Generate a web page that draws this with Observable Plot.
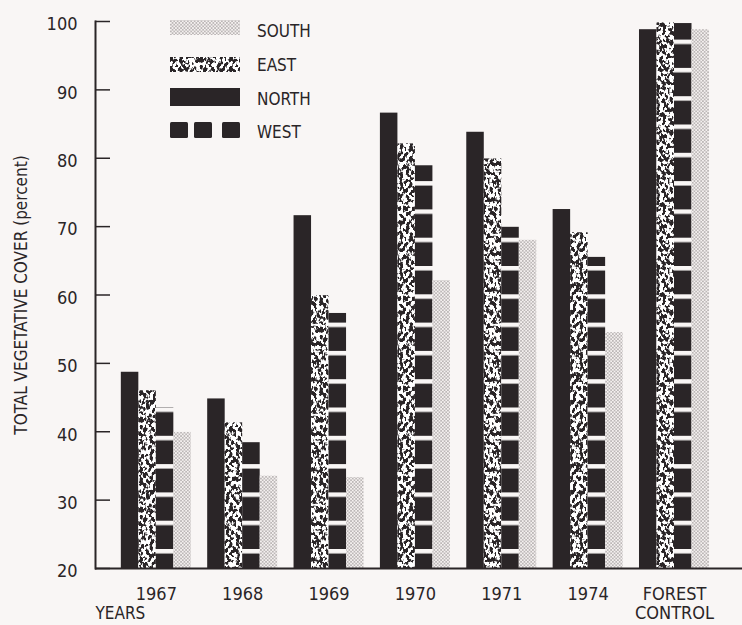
<!DOCTYPE html>
<html>
<head>
<meta charset="utf-8">
<script src="https://cdn.jsdelivr.net/npm/d3@7"></script>
<script src="https://cdn.jsdelivr.net/npm/@observablehq/plot@0.6"></script>
<style>
  html, body { margin: 0; padding: 0; background: #f9f6f5; }
  #chart { width: 742px; height: 625px; }
  svg { font-family: "DejaVu Sans Condensed", "DejaVu Sans", sans-serif; font-stretch: condensed; }
</style>
</head>
<body>
<div id="chart"></div>
<script>
// ---- data ----
const groups = ["1967", "1968", "1969", "1970", "1971", "1974", "FOREST CONTROL"];
const seriesNames = ["NORTH", "EAST", "WEST", "SOUTH"];
const north = [48.7, 44.8, 71.6, 86.6, 83.8, 72.5, 98.8];
const east  = [46.0, 41.3, 59.9, 82.1, 79.9, 69.1, 99.8];
const west  = [43.5, 38.4, 57.3, 78.9, 69.9, 65.5, 99.7];
const south = [39.9, 33.5, 33.3, 62.1, 68.0, 54.5, 98.8];
const legendOrder = ["SOUTH", "EAST", "NORTH", "WEST"];
const yTicks = [20, 30, 40, 50, 60, 70, 80, 90, 100];
const yTitle = "TOTAL VEGETATIVE COVER (percent)";
const xNote = "YEARS";

const valuesBySeries = { NORTH: north, EAST: east, WEST: west, SOUTH: south };
const rows = seriesNames.flatMap(s => groups.map((g, i) => ({ group: g, series: s, value: valuesBySeries[s][i] })));

// ---- styles ----
const DARK = "#2a2527", BG = "#f9f6f5";
const fills = { NORTH: DARK, EAST: "url(#pEast)", WEST: "url(#pWest)", SOUTH: "url(#pSouth)" };
const bandW = 70, sub = bandW / 4;

const barMarks = seriesNames.map((s, k) =>
  Plot.barY(rows.filter(d => d.series === s), {
    x: "group", y1: 20, y2: "value", fill: fills[s],
    insetLeft: k * sub, insetRight: (3 - k) * sub
  })
);

const chart = Plot.plot({
  width: 742, height: 625,
  marginLeft: 95, marginRight: 0, marginTop: 21, marginBottom: 57,
  x: { type: "band", domain: groups, paddingInner: 0.1894, paddingOuter: 0.3406, align: 0.439, round: false, axis: null },
  y: { domain: [20, 100], axis: null },
  style: { background: BG, color: DARK, fontSize: "17px", fontFamily: "'DejaVu Sans Condensed', 'DejaVu Sans', sans-serif", overflow: "visible" },
  marks: [
    ...barMarks,
    Plot.ruleY(yTicks, { insetRight: 632, stroke: DARK, strokeWidth: 1.5 }),
    Plot.ruleY([20], { stroke: DARK, strokeWidth: 2 }),
    Plot.frame({ anchor: "left", stroke: DARK, strokeWidth: 2 }),
    Plot.axisY({ ticks: yTicks, tickSize: 0, tickPadding: 18, fontSize: 18, dy: 3, label: null, fill: DARK }),
    Plot.axisX({ tickSize: 0, tickPadding: 17, fontSize: 18, lineHeight: 1.1, label: null, fill: DARK,
      tickFormat: d => d === "FOREST CONTROL" ? "FOREST\nCONTROL" : d }),
    Plot.text([yTitle], { frameAnchor: "left", textAnchor: "middle", rotate: -90, dx: -74, fontSize: 17, fill: DARK }),
    Plot.text([xNote], { x: () => groups[0], frameAnchor: "bottom", textAnchor: "middle", dy: 50, dx: -36, fontSize: 17, fill: DARK })
  ]
});

const svg = d3.select(chart);
svg.insert("defs", ":first-child").html(`
  <filter id="fSpeck" x="0" y="0" width="100%" height="100%" color-interpolation-filters="sRGB">
    <feTurbulence type="fractalNoise" baseFrequency="0.3 0.22" numOctaves="2" seed="7" stitchTiles="stitch" result="t"/>
    <feColorMatrix in="t" type="matrix" values="0 0 0 0 1  0 0 0 0 1  0 0 0 0 1  14 0 0 0 -6.4"/>
  </filter>
  <pattern id="pEast" patternUnits="userSpaceOnUse" width="60" height="90">
    <rect width="60" height="90" fill="${DARK}"/>
    <rect width="60" height="90" fill="#fff" filter="url(#fSpeck)"/>
  </pattern>
  <pattern id="pSouth" patternUnits="userSpaceOnUse" width="3.4" height="3.4">
    <rect width="3.4" height="3.4" fill="#f5f1f0"/>
    <circle cx="0.85" cy="0.85" r="0.6" fill="#5a5455"/>
    <circle cx="2.55" cy="2.55" r="0.6" fill="#5a5455"/>
  </pattern>
  <pattern id="pWest" patternUnits="userSpaceOnUse" width="20" height="28.3" patternTransform="translate(0,11.3)">
    <rect width="20" height="28.3" fill="${DARK}"/>
    <rect width="20" height="4.5" fill="${BG}"/>
  </pattern>
`);

// ---- legend ----
const lg = svg.append("g").attr("font-size", 17).attr("fill", DARK).attr("text-anchor", "start");
const legendRows = [
  { y: 20, h: 15, ty: 31 },
  { y: 57, h: 15, ty: 65.5 },
  { y: 88, h: 18, ty: 99 },
  { y: 122, h: 16, ty: 132 }
];
legendRows.forEach((r, i) => {
  const name = legendOrder[i];
  if (name === "WEST") {
    [170, 194, 222].forEach(x => lg.append("rect").attr("x", x).attr("y", r.y).attr("width", 18).attr("height", r.h).attr("rx", 1.5).attr("fill", DARK));
  } else {
    lg.append("rect").attr("x", 170).attr("y", r.y).attr("width", 70).attr("height", r.h).attr("fill", fills[name]);
  }
  lg.append("text").attr("x", 257).attr("y", r.ty).attr("dy", "0.35em").attr("text-anchor", "start").text(name);
});

document.getElementById("chart").appendChild(chart);
</script>
</body>
</html>
